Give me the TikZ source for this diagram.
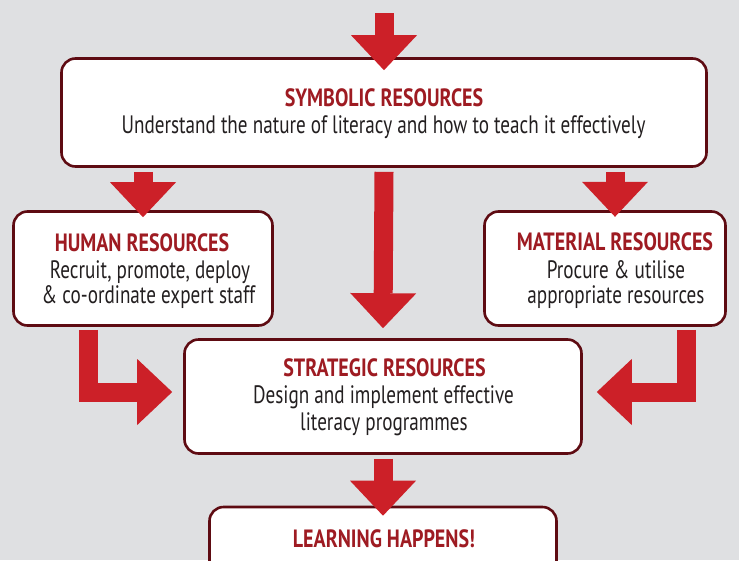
\documentclass[tikz,border=0pt]{standalone}
\usepackage{fontspec}
\setmainfont{PT Sans}[FakeStretch=0.76]
\newfontfamily\headfamily{PT Sans}[FakeStretch=0.8]
\usetikzlibrary{arrows.meta,calc}

\definecolor{bgGrey}{HTML}{DFE0E2}
\definecolor{frameRed}{HTML}{5E0B12}
\definecolor{arrowRed}{HTML}{CC2028}
\definecolor{titleRed}{HTML}{9E1B22}
\definecolor{bodyInk}{HTML}{231F20}

\newcommand\headfont{\headfamily\fontsize{25}{27}\selectfont\bfseries}
\newcommand\linefont{\fontsize{25.2}{28}\selectfont}

\tikzset{
  box/.style={draw=frameRed, line width=2.6pt, fill=white, rounded corners=14pt, inner sep=0pt},
  flow/.style={draw=arrowRed, line width=19pt, line cap=butt, line join=miter,
    -{Triangle[length=35pt,width=66pt,line width=0pt]}},
  head/.style={anchor=base, inner sep=0pt, text=titleRed, font=\headfont},
  line/.style={anchor=base, inner sep=0pt, text=bodyInk, font=\linefont,
    text height=17pt, text depth=4pt},
}

\begin{document}
\begin{tikzpicture}[x=1pt,y=-1pt]
  % canvas
  \fill[bgGrey] (0,0) rectangle (739,560);
  \useasboundingbox (0,0) rectangle (739,560);

  % boxes
  \node[box, minimum width=645pt, minimum height=108pt] (sym) at (384,112.5) {};
  \node[box, minimum width=259pt, minimum height=114pt] (hum) at (143,268.5) {};
  \node[box, minimum width=241pt, minimum height=114pt] (mat) at (605,268.5) {};
  \node[box, minimum width=397pt, minimum height=114pt] (str) at (383,396.5) {};
  \node[box, minimum width=347pt, minimum height=72pt]  (lrn) at (383,543) {};

  % texts
  \node[head] (symT) at (384,106) {SYMBOLIC RESOURCES};
  \node[line] (symL) at (383.5,133) {Understand the nature of literacy and how to teach it effectively};

  \node[head] (humT) at (142,251) {HUMAN RESOURCES};
  \node[line] (humA) at (150,278.5) {Recruit, promote, deploy};
  \node[line] (humB) at (148.5,303) {\& co-ordinate expert staff};

  \node[head] (matT) at (615,250) {MATERIAL RESOURCES};
  \node[line] (matA) at (616,278.5) {Procure \& utilise};
  \node[line] (matB) at (616,303) {appropriate resources};

  \node[head] (strT) at (384.5,376) {STRATEGIC RESOURCES};
  \node[line] (strA) at (383.5,403) {Design and implement effective};
  \node[line] (strB) at (384,430) {literacy programmes};

  \node[head] (lrnT) at (384,547) {LEARNING HAPPENS!};

  % block arrows
  \coordinate (entry) at (384,13);
  \draw[flow] (entry) -- ($(sym.north)+(0,13)$);
  \draw[flow] ($(hum.north |- sym.south)+(0,4)$) -- ($(hum.north)+(0,7)$);
  \draw[flow] ($(sym.south)+(231,4)$) -- ($(sym.south)+(231,49)$);
  \draw[flow] ($(sym.south)+(0,4)$) -- ($(str.north)+(0,-10)$);
  \draw[flow] ($(hum.south)+(-55,3)$) |- ($(str.west)+(-11,-4.5)$);
  \draw[flow] ($(mat.south)+(81.5,3)$) |- ($(str.east)+(14,-4.5)$);
  \draw[flow] ($(str.south)+(0,4)$) -- ($(lrn.north)+(0,10)$);
\end{tikzpicture}
\end{document}
